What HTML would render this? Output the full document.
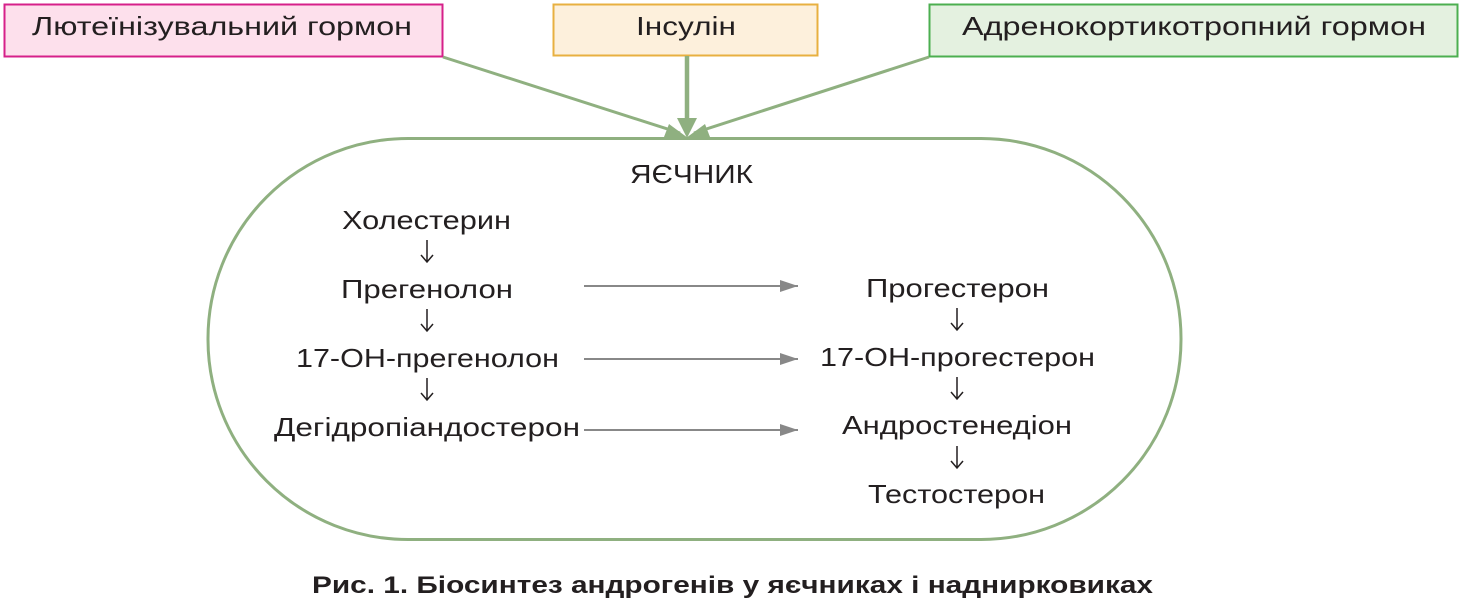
<!DOCTYPE html>
<html><head><meta charset="utf-8"><style>
body{margin:0;background:#fff;width:1462px;height:606px;overflow:hidden}
text{font-family:"Liberation Sans","DejaVu Sans",sans-serif;fill:#231f20}
</style></head><body>
<svg width="1462" height="606" viewBox="0 0 1462 606" xmlns="http://www.w3.org/2000/svg">
<defs>
<marker id="gr" markerWidth="18" markerHeight="12" refX="18" refY="6" orient="auto" markerUnits="userSpaceOnUse"><path d="M0,0 L18,6 L0,12 Z" fill="#888"/></marker>
</defs>
<rect x="4.5" y="4.5" width="438" height="52" fill="#fde0ec" stroke="#d6208a" stroke-width="2"/>
<rect x="553.5" y="4.5" width="264" height="51" fill="#fdf0dc" stroke="#e8b040" stroke-width="2"/>
<rect x="929.5" y="4.5" width="528" height="52" fill="#e4f1e0" stroke="#4caf50" stroke-width="2"/>
<g font-size="26" lengthAdjust="spacingAndGlyphs">
<text x="32" y="35" textLength="380" lengthAdjust="spacingAndGlyphs">Лютеїнізувальний гормон</text>
<text x="636" y="35" textLength="100" lengthAdjust="spacingAndGlyphs">Інсулін</text>
<text x="962" y="35" textLength="464" lengthAdjust="spacingAndGlyphs">Адренокортикотропний гормон</text>
</g>
<line x1="443" y1="57" x2="680" y2="133" stroke="#8fb080" stroke-width="3"/>
<path d="M669,124 L688,138 L664,137 Z" fill="#8fb080"/>
<line x1="929" y1="57" x2="694" y2="133" stroke="#8fb080" stroke-width="3"/>
<path d="M705,124 L686,138 L710,137 Z" fill="#8fb080"/>
<line x1="687" y1="56" x2="687" y2="125" stroke="#8fb080" stroke-width="4.5"/>
<path d="M677,118 L687,138 L697,118 Z" fill="#8fb080"/>
<rect x="208" y="138.5" width="973" height="401" rx="200" ry="200" fill="none" stroke="#8fb080" stroke-width="3"/>
<text x="630" y="183" font-size="26" textLength="123" lengthAdjust="spacingAndGlyphs">ЯЄЧНИК</text>
<g font-size="26">
<text x="342" y="229" textLength="169" lengthAdjust="spacingAndGlyphs">Холестерин</text>
<text x="341" y="298" textLength="172" lengthAdjust="spacingAndGlyphs">Прегенолон</text>
<text x="296" y="367" textLength="263" lengthAdjust="spacingAndGlyphs">17-ОН-прегенолон</text>
<text x="274" y="436" textLength="306" lengthAdjust="spacingAndGlyphs">Дегідропіандостерон</text>
<text x="866" y="297" textLength="183" lengthAdjust="spacingAndGlyphs">Прогестерон</text>
<text x="820" y="366" textLength="275" lengthAdjust="spacingAndGlyphs">17-ОН-прогестерон</text>
<text x="842" y="434" textLength="230" lengthAdjust="spacingAndGlyphs">Андростенедіон</text>
<text x="868" y="503" textLength="177" lengthAdjust="spacingAndGlyphs">Тестостерон</text>
</g>
<g stroke="#231f20" stroke-width="1.5" fill="none">
<path d="M427,240 V262 M421,255 L427,262 L433,255"/>
<path d="M427,309 V331 M421,324 L427,331 L433,324"/>
<path d="M427,378 V400 M421,393 L427,400 L433,393"/>
<path d="M957,308 V330 M951,323 L957,330 L963,323"/>
<path d="M957,377 V399 M951,392 L957,399 L963,392"/>
<path d="M957,446 V468 M951,461 L957,468 L963,461"/>
</g>
<g stroke="#888" stroke-width="2">
<line x1="584" y1="286" x2="798" y2="286" marker-end="url(#gr)"/>
<line x1="584" y1="359" x2="798" y2="359" marker-end="url(#gr)"/>
<line x1="584" y1="430" x2="798" y2="430" marker-end="url(#gr)"/>
</g>
<text x="312" y="593" font-size="24" font-weight="bold" textLength="841" lengthAdjust="spacingAndGlyphs">Рис. 1. Біосинтез андрогенів у яєчниках і наднирковиках</text>
</svg>
</body></html>
